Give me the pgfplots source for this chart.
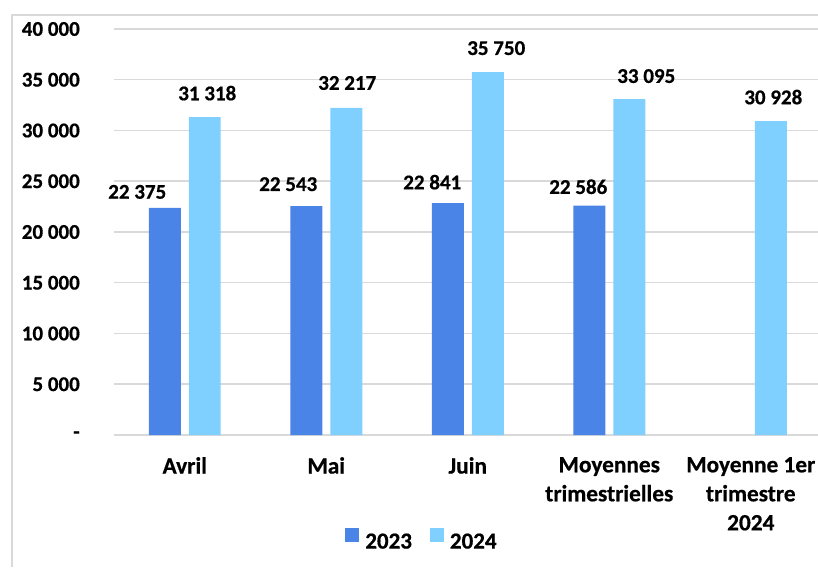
\documentclass[border=0pt]{standalone}
\usepackage{fontspec}
\setmainfont{Carlito}[BoldFeatures={FakeBold=0.6}]
\usepackage{pgfplots}
\usepackage{pgfplotstable}
\pgfplotsset{compat=1.18}
\definecolor{cA}{RGB}{74,132,230}
\definecolor{cB}{RGB}{128,208,255}
\definecolor{gridgray}{RGB}{217,217,217}
\pgfplotstableread{
x y dx dy
0 22375 -27.5 16
1 22543 -18 22
2 22841 -15.5 21
3 22586 -11 19
}\dataA
\pgfplotstableread{
x y dx dy
0 31318 2.5 24
1 32217 1 25
2 35750 8.5 24
3 33095 17 23
4 30928 2.5 24
}\dataB
\begin{document}
\bfseries
\begin{tikzpicture}
\path[use as bounding box] (0,0) rectangle (818pt,567pt);
\begin{axis}[
  at={(114pt,132pt)}, anchor=south west,
  scale only axis, width=704pt, height=406pt,
  xmin=-0.5, xmax=4.475, ymin=0, ymax=40000,
  scaled y ticks=false,
  axis line style={draw=none},
  major tick length=0pt,
  ymajorgrids,
  major grid style={draw=gridgray, line width=1.5pt},
  ytick={0,5000,10000,15000,20000,25000,30000,35000,40000},
  yticklabels={{-\hspace{10pt}},5 000,10 000,15 000,20 000,25 000,30 000,35 000,40 000},
  yticklabel style={anchor=east, inner sep=0pt, xshift=-34pt, font=\fontsize{21}{25}\selectfont\bfseries},
  xtick={0,1,2,3,4},
  xticklabels={Avril,Mai,Juin,{Moyennes\\trimestrielles},{Moyenne 1er\\trimestre\\2024}},
  xticklabel style={anchor=north, inner sep=0pt, yshift=-22pt, align=center, font=\fontsize{23.3}{29}\selectfont\bfseries},
  ybar, bar width=0.226,
  /pgf/number format/.cd, fixed, precision=0, 1000 sep={\ }, assume math mode=true,
  /pgfplots/.cd,
  legend style={at={(0.436,-0.256)}, anchor=center, draw=none, fill=none,
    legend columns=2, font=\fontsize{23}{25}\selectfont\bfseries,
    nodes={inner sep=0pt}, column sep=6pt,
    /tikz/every even column/.append style={column sep=18pt}},
  legend image code/.code={\fill[#1] (0pt,0pt) rectangle (14pt,14pt);},
]
\addplot[fill=cA, draw=none, bar shift=-0.1413,
  nodes near coords,
  visualization depends on={\thisrow{dx} \as \dx},
  visualization depends on={\thisrow{dy} \as \dy},
  nodes near coords style={anchor=center, inner sep=0pt, xshift=\dx*1pt, yshift=\dy*1pt, font=\fontsize{21}{25}\selectfont\bfseries, text=black}]
  table[x=x, y=y] {\dataA};
\addlegendentry{2023}
\addplot[fill=cB, draw=none, bar shift=0.1413,
  nodes near coords,
  visualization depends on={\thisrow{dx} \as \dx},
  visualization depends on={\thisrow{dy} \as \dy},
  nodes near coords style={anchor=center, inner sep=0pt, xshift=\dx*1pt, yshift=\dy*1pt, font=\fontsize{21}{25}\selectfont\bfseries, text=black}]
  table[x=x, y=y] {\dataB};
\addlegendentry{2024}
\end{axis}
\draw[gridgray, line width=2pt] (12pt,0pt) -- (12pt,552pt) -- (818pt,552pt);
\end{tikzpicture}
\end{document}
